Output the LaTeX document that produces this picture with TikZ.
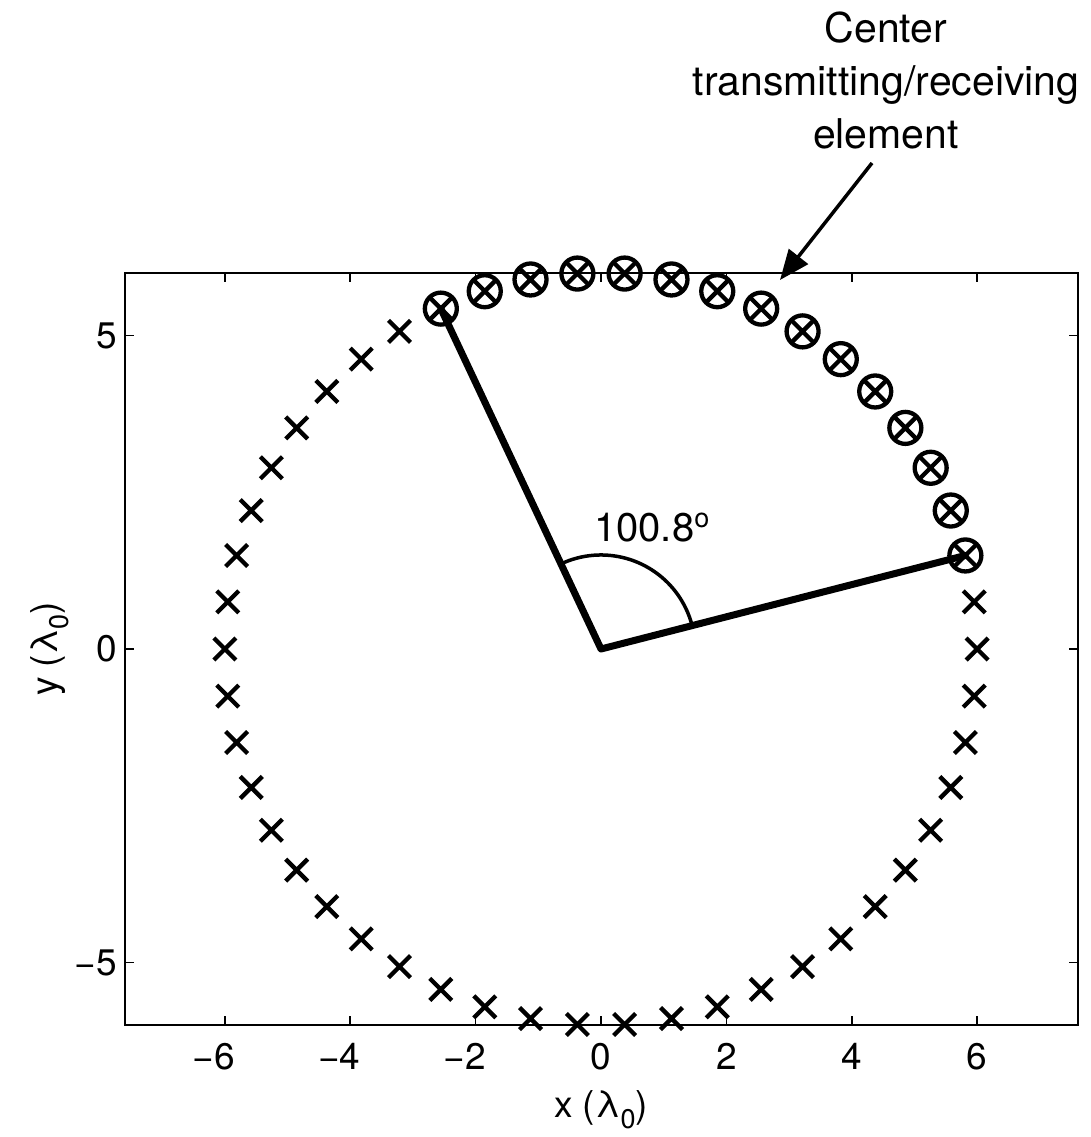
\documentclass[tikz,border=0pt]{standalone}
\usepackage{fontspec}
\setmainfont{TeX Gyre Heros}
\usetikzlibrary{arrows.meta}
\newcommand{\fsz}[1]{\fontsize{#1}{#1}\selectfont}
\newcommand{\lamsub}{λ\raisebox{-0.32em}{\fsz{27}0}}
\begin{document}
\begin{tikzpicture}[x=1pt,y=-1pt,
  axisbox/.style={line width=2pt},
  tickmk/.style={line width=1.5pt},
  xmk/.style={line width=4.3pt},
  cmk/.style={line width=4.3pt},
  radial/.style={line width=7pt, line cap=round, line join=round},
  anglearc/.style={line width=3.5pt},
  ticklbl/.style={inner sep=0pt, font=\fsz{37}},
  annot/.style={inner sep=0pt, font=\fsz{41}, anchor=base},
  pointer/.style={line width=3.5pt, -{Triangle[length=30pt,width=24pt]}}]
\useasboundingbox (0,0) rectangle (1090,1137);
% axes box
\draw[axisbox] (125,272.8) rectangle (1077.7,1025.2);
\foreach \v in {-6,-4,...,6}{
  \pgfmathsetmacro{\px}{601+62.7*\v}
  \draw[tickmk] (\px,1025.2) -- ++(0,-9);
  \draw[tickmk] (\px,272.8) -- ++(0,9);
}
\foreach \v in {-5,0,5}{
  \pgfmathsetmacro{\py}{649-62.7*\v}
  \draw[tickmk] (125,\py) -- ++(9,0);
  \draw[tickmk] (1077.7,\py) -- ++(-9,0);
}
% tick labels
\foreach \v/\t in {-6/\llap{−}6,-4/\llap{−}4,-2/\llap{−}2,0/0,2/2,4/4,6/6}{
  \pgfmathsetmacro{\px}{601+62.7*\v}
  \node[ticklbl, anchor=north] (xt\v) at (\px,1043) {\t};
}
\foreach \v/\t in {-5/−5,0/0,5/5}{
  \pgfmathsetmacro{\py}{649-62.7*\v}
  \node[ticklbl, anchor=east] (yt\v) at (117,\py) {\t};
}
\node[inner sep=0pt, font=\fsz{37}, anchor=base] (xlab) at (601,1117) {x (\lamsub)};
\node[inner sep=0pt, font=\fsz{37}, anchor=base, rotate=90] (ylab) at (57,649) {y (\lamsub)};
% data scope
\begin{scope}[shift={(601pt,-649pt)}, x=62.7pt, y=62.7pt]
  \coordinate (O) at (0,0);
  \foreach \k in {0,...,49}{ \coordinate (e\k) at ({\k*7.2}:6); }
  \draw[anglearc] (14.4:1.5) arc[start angle=14.4, end angle=115.2, radius=1.5];
\end{scope}
\draw[radial] (e16) -- (O) -- (e2);
\foreach \k in {0,...,49}{
  \draw[xmk] (e\k) +(-11pt,-11pt) -- +(11pt,11pt) (e\k) +(-11pt,11pt) -- +(11pt,-11pt);
}
\foreach \k in {2,...,16}{
  \draw[cmk] (e\k) circle[radius=16pt];
}
\node[inner sep=0pt, font=\fsz{40}, anchor=base west] (ang) at (594,541) {100.8\raisebox{14pt}{\fsz{27}o}};
% annotation
\node[annot] (a1) at (886,43) {Center};
\node[annot] (a2) at (886,96) {transmitting/receiving};
\node[annot] (a3) at (886,149) {element};
\coordinate (tail) at (872,163);
\coordinate (tip) at (780,280);
\draw[pointer] (tail) -- (tip);
\end{tikzpicture}
\end{document}
